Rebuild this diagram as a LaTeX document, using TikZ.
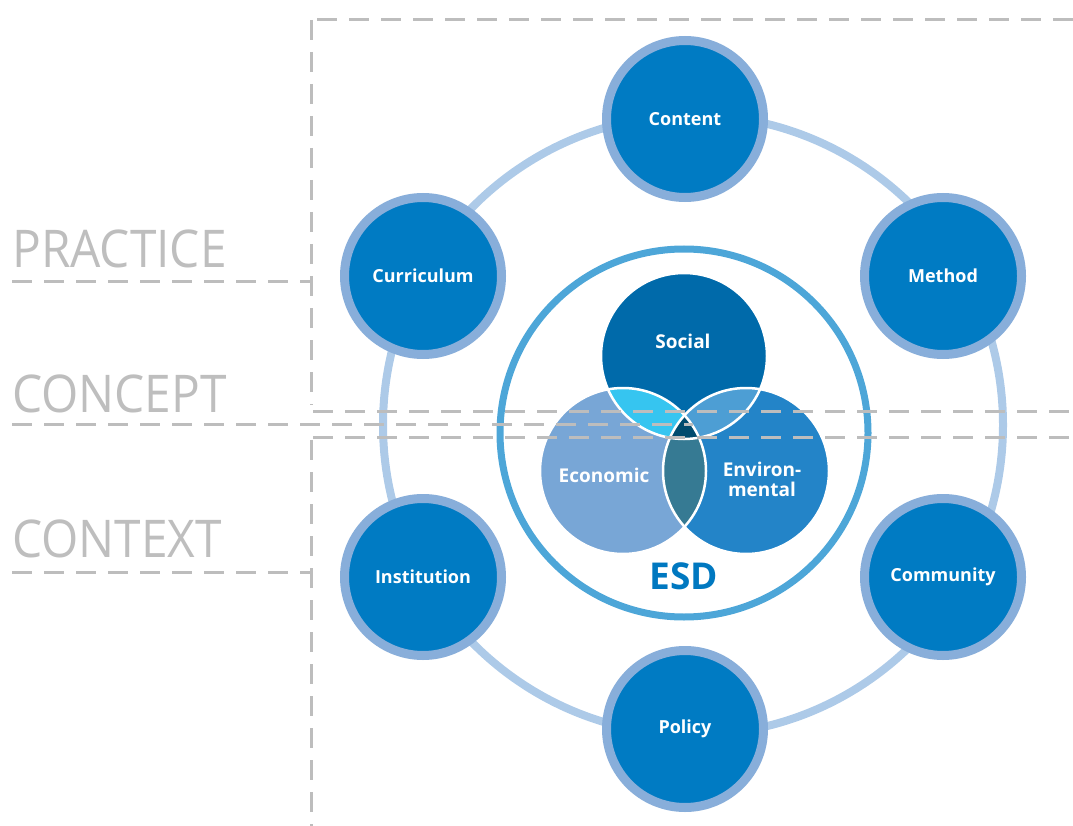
\documentclass[tikz,border=0pt]{standalone}
\usepackage{fontspec}
\setmainfont{Open Sans}
\definecolor{nodefill}{HTML}{007BC3}
\definecolor{nodeborder}{HTML}{88AEDA}
\definecolor{ringcol}{HTML}{ADCAE8}
\definecolor{esdring}{HTML}{4DA6D8}
\definecolor{socialc}{HTML}{006AAA}
\definecolor{econc}{HTML}{78A6D6}
\definecolor{envc}{HTML}{2384C8}
\definecolor{sec}{HTML}{36C5F0}
\definecolor{svc}{HTML}{4D9ED4}
\definecolor{evc}{HTML}{367A93}
\definecolor{sevc}{HTML}{004B6E}
\definecolor{dashgray}{HTML}{BDBDBD}
\definecolor{labelgray}{HTML}{BEBEBE}
\definecolor{esdblue}{HTML}{0078C0}
\begin{document}
\begin{tikzpicture}[x=1pt,y=-1pt,
  outernode/.style={circle, fill=nodefill, draw=nodeborder, line width=9pt,
    minimum size=157pt, inner sep=0pt, text=white,
    font=\bfseries\fontsize{18}{21}\selectfont},
  venntext/.style={text=white, font=\bfseries\fontsize{19}{22}\selectfont, align=center, inner sep=0pt},
  sectionlabel/.style={anchor=base west, text=labelgray, inner sep=0pt,
    font=\fontsize{52}{56}\selectfont},
  guide/.style={draw=dashgray, line width=3pt, dash pattern=on 20pt off 12pt},
  vennline/.style={draw=white, line width=2.5pt}
]
\useasboundingbox (0,0) rectangle (1073,826);

% outer ring
\coordinate (ringc) at (693,425);
\draw[ringcol, line width=8pt] (ringc) circle[radius=310];

% ESD ring
\coordinate (esdc) at (684,433);
\draw[esdring, line width=7pt] (esdc) circle[radius=184];

% Venn diagram
\coordinate (soc) at (684,356);
\coordinate (eco) at (623,471);
\coordinate (env) at (746,471);
\fill[econc] (eco) circle[radius=83];
\fill[envc] (env) circle[radius=83];
\fill[socialc] (soc) circle[radius=83];
\begin{scope}
  \clip (soc) circle[radius=83];
  \fill[sec] (eco) circle[radius=83];
  \fill[svc] (env) circle[radius=83];
\end{scope}
\begin{scope}
  \clip (eco) circle[radius=83];
  \fill[evc] (env) circle[radius=83];
\end{scope}
\begin{scope}
  \clip (soc) circle[radius=83];
  \clip (eco) circle[radius=83];
  \fill[sevc] (env) circle[radius=83];
\end{scope}
\draw[vennline] (soc) circle[radius=83];
\draw[vennline] (eco) circle[radius=83];
\draw[vennline] (env) circle[radius=83];

\node[venntext] (social) at (683,341) {Social};
\node[venntext] (economic) at (604,475) {Economic};
\node[venntext] (environmental) at (762,479) {Environ-\\[-2pt]mental};
\node[text=esdblue, font=\bfseries\fontsize{37}{40}\selectfont, inner sep=0pt] (esd) at (684,576) {ESD};

% outer nodes
\node[outernode] (content) at (685,119) {Content};
\node[outernode] (method) at (943,276) {Method};
\node[outernode] (curriculum) at (423,276) {Curriculum};
\node[outernode] (community) at (943,577) {Community};
\node[outernode] (institution) at (423,577) {Institution};
\node[outernode] (policy) at (685,729) {Policy};

% section labels
\node[sectionlabel] (practice) at (12,268) {\scalebox{0.92}[1]{PRACTICE}};
\node[sectionlabel] (concept) at (12,412) {\scalebox{0.92}[1]{CONCEPT}};
\node[sectionlabel] (context) at (12,557) {\scalebox{0.92}[1]{CONTEXT}};

% dashed guides
\coordinate (pTop) at (311.5,20);
\coordinate (pTopL) at (317,20);
\coordinate (pTopR) at (1073,20);
\coordinate (pBotL) at (313,411);
\coordinate (pBotR) at (1073,411);
\coordinate (pVend) at (311.5,405);
\coordinate (pUL) at (12,282);
\coordinate (pUR) at (311.5,282);
\coordinate (cUL) at (12,424);
\coordinate (cUR) at (693,424);
\coordinate (xTopL) at (313,437);
\coordinate (xTopR) at (1073,437);
\coordinate (xV) at (311.5,440);
\coordinate (xVend) at (311.5,826);
\coordinate (xUL) at (12,572);
\coordinate (xUR) at (311.5,572);
\draw[guide] (pTopL) -- (pTopR);
\draw[guide] (pTop) -- (pVend);
\draw[guide] (pUL) -- (pUR);
\draw[guide] (pBotL) -- (pBotR);
\draw[guide] (cUL) -- (cUR);
\draw[guide] (xTopL) -- (xTopR);
\draw[guide] (xV) -- (xVend);
\draw[guide] (xUL) -- (xUR);
\end{tikzpicture}
\end{document}
